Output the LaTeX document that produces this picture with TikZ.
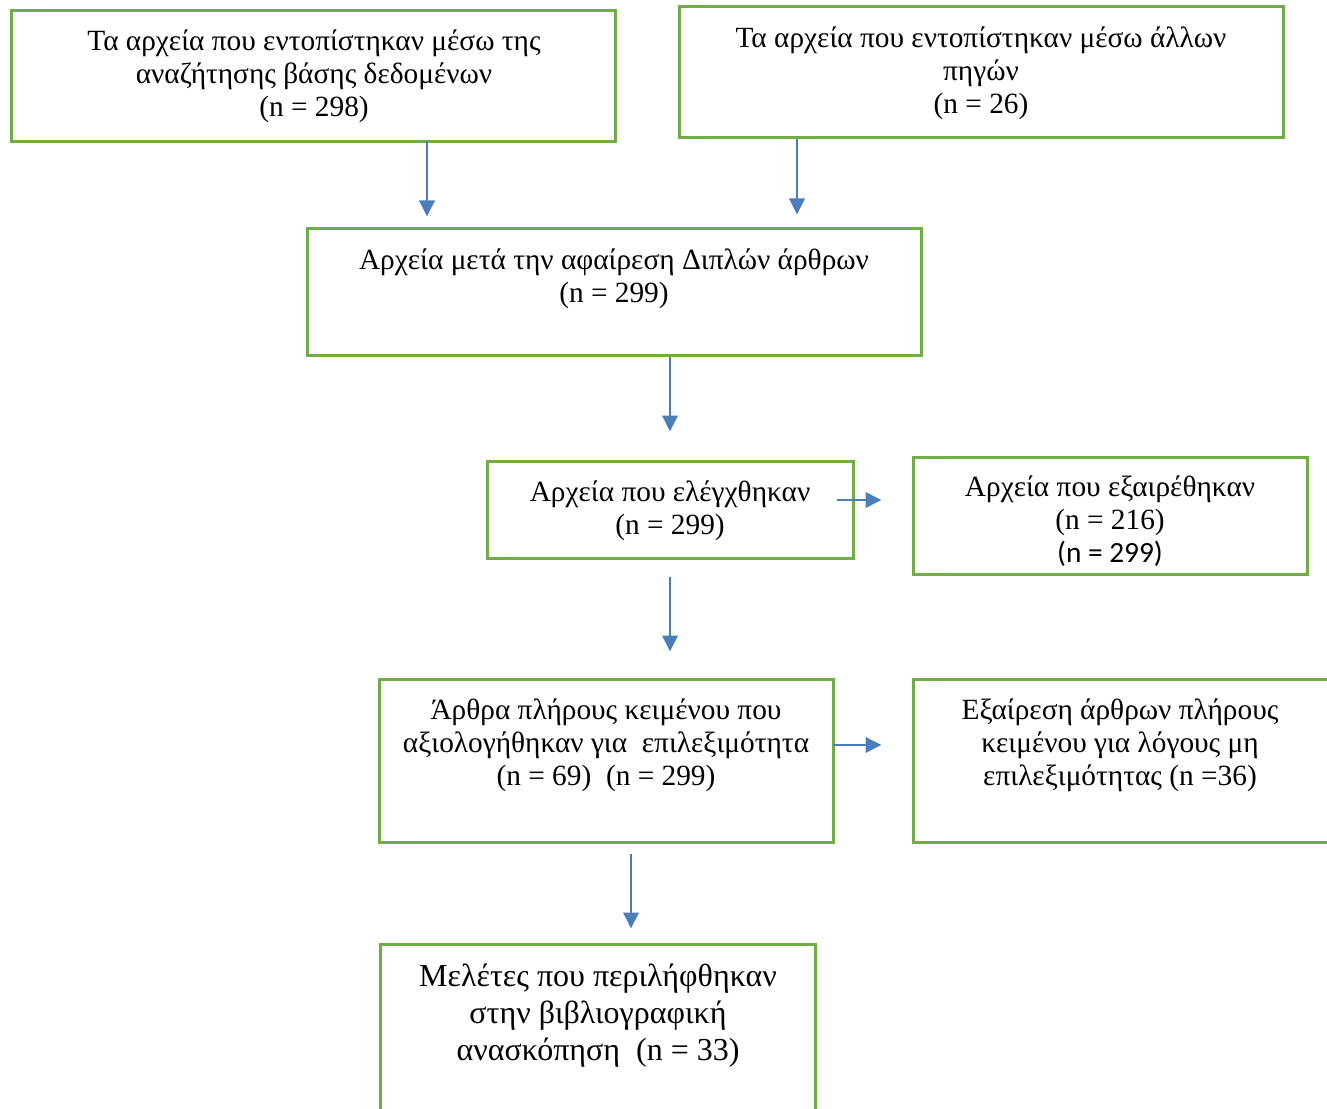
\documentclass[tikz,border=0pt]{standalone}
\usepackage{fontspec}
\setmainfont{Liberation Serif}
\newfontfamily\sansnum{Carlito}
\usetikzlibrary{arrows.meta,positioning}

\definecolor{boxgreen}{HTML}{70AD47}
\definecolor{arrowblue}{HTML}{4A7EBB}

\tikzset{
  box/.style={draw=boxgreen,line width=2.25pt,inner sep=0pt},
  txt/.style={align=center,anchor=base,inner sep=0pt,
    font=\fontsize{22}{24.75}\selectfont},
  bigtxt/.style={txt,font=\fontsize{24}{27.75}\selectfont},
  arr/.style={draw=arrowblue,line width=1.9pt,
    -{Triangle[length=12pt,width=11.5pt]}}
}

\begin{document}
\begin{tikzpicture}[x=0.75pt,y=-0.75pt]
  \useasboundingbox (0,0) rectangle (1327,1109);

  % boxes
  \node[box,minimum width=453pt,minimum height=98.25pt] (b1) at (313,76.5) {};
  \node[box,minimum width=453pt,minimum height=98.25pt] (b2) at (981,72.5) {};
  \node[box,minimum width=460.5pt,minimum height=94.5pt] (b3) at (614,292) {};
  \node[box,minimum width=274.5pt,minimum height=72.75pt] (b4) at (670,509.5) {};
  \node[box,minimum width=295.5pt,minimum height=87.75pt] (b5) at (1110,515.5) {};
  \node[box,minimum width=340.5pt,minimum height=122.25pt] (b6) at (606,760.5) {};
  \node[box,minimum width=311.25pt,minimum height=122.25pt] (b7) at (1120.5,760.5) {};
  \node[box,minimum width=326.25pt,minimum height=141pt] (b8) at (597.5,1038) {};

  % texts (base = last line)
  \node[txt] (t1) at (314,117) {Τα αρχεία που εντοπίστηκαν μέσω της\\
    αναζήτησης βάσης δεδομένων\\(n = 298)};
  \node[txt] (t2) at (981,114) {Τα αρχεία που εντοπίστηκαν μέσω άλλων\\
    πηγών\\(n = 26)};
  \node[txt] (t3) at (614,302) {Αρχεία μετά την αφαίρεση Διπλών άρθρων\\(n = 299)};
  \node[txt] (t4) at (670,534) {Αρχεία που ελέγχθηκαν\\(n = 299)};
  \node[txt] (t5) at (1110,562) {Αρχεία που εξαιρέθηκαν\\(n = 216)\\
    {\sansnum (n = 299)}};
  \node[txt] (t6) at (606,785) {Άρθρα πλήρους κειμένου που\\
    αξιολογήθηκαν για\ \ επιλεξιμότητα\\(n = 69)\ \ (n = 299)};
  \node[txt] (t7) at (1120,785) {Εξαίρεση άρθρων πλήρους\\
    κειμένου για λόγους μη\\επιλεξιμότητας (n =36)};
  \node[bigtxt] (t8) at (598,1060) {Μελέτες που περιλήφθηκαν\\
    στην βιβλιογραφική\\ανασκόπηση\ \ (n = 33)};

  % arrow columns and rows
  \coordinate (c1) at (427,0);
  \coordinate (c2) at (797,0);
  \coordinate (c3) at (670,0);
  \coordinate (c4) at (631,0);
  \coordinate (r1) at (0,500);
  \coordinate (r2) at (0,745);

  \draw[arr,shorten <=-1.5pt,shorten >=8.25pt] (b1.south -| c1) -- (b3.north -| c1);
  \draw[arr,shorten >=9.75pt] (b2.south -| c2) -- (b3.north -| c2);
  \draw[arr,shorten >=21pt] (b3.south -| c3) -- (b4.north -| c3);
  \draw[arr,shorten <=12.75pt,shorten >=19.5pt] (b4.south -| c3) -- (b6.north -| c3);
  \draw[arr,shorten <=7.5pt,shorten >=10.5pt] (b6.south -| c4) -- (b8.north -| c4);
  \draw[arr,shorten <=-13.5pt,shorten >=22.5pt] (b4.east |- r1) -- (b5.west |- r1);
  \draw[arr,shorten <=-1.5pt,shorten >=22.5pt] (b6.east |- r2) -- (b7.west |- r2);

\end{tikzpicture}
\end{document}
